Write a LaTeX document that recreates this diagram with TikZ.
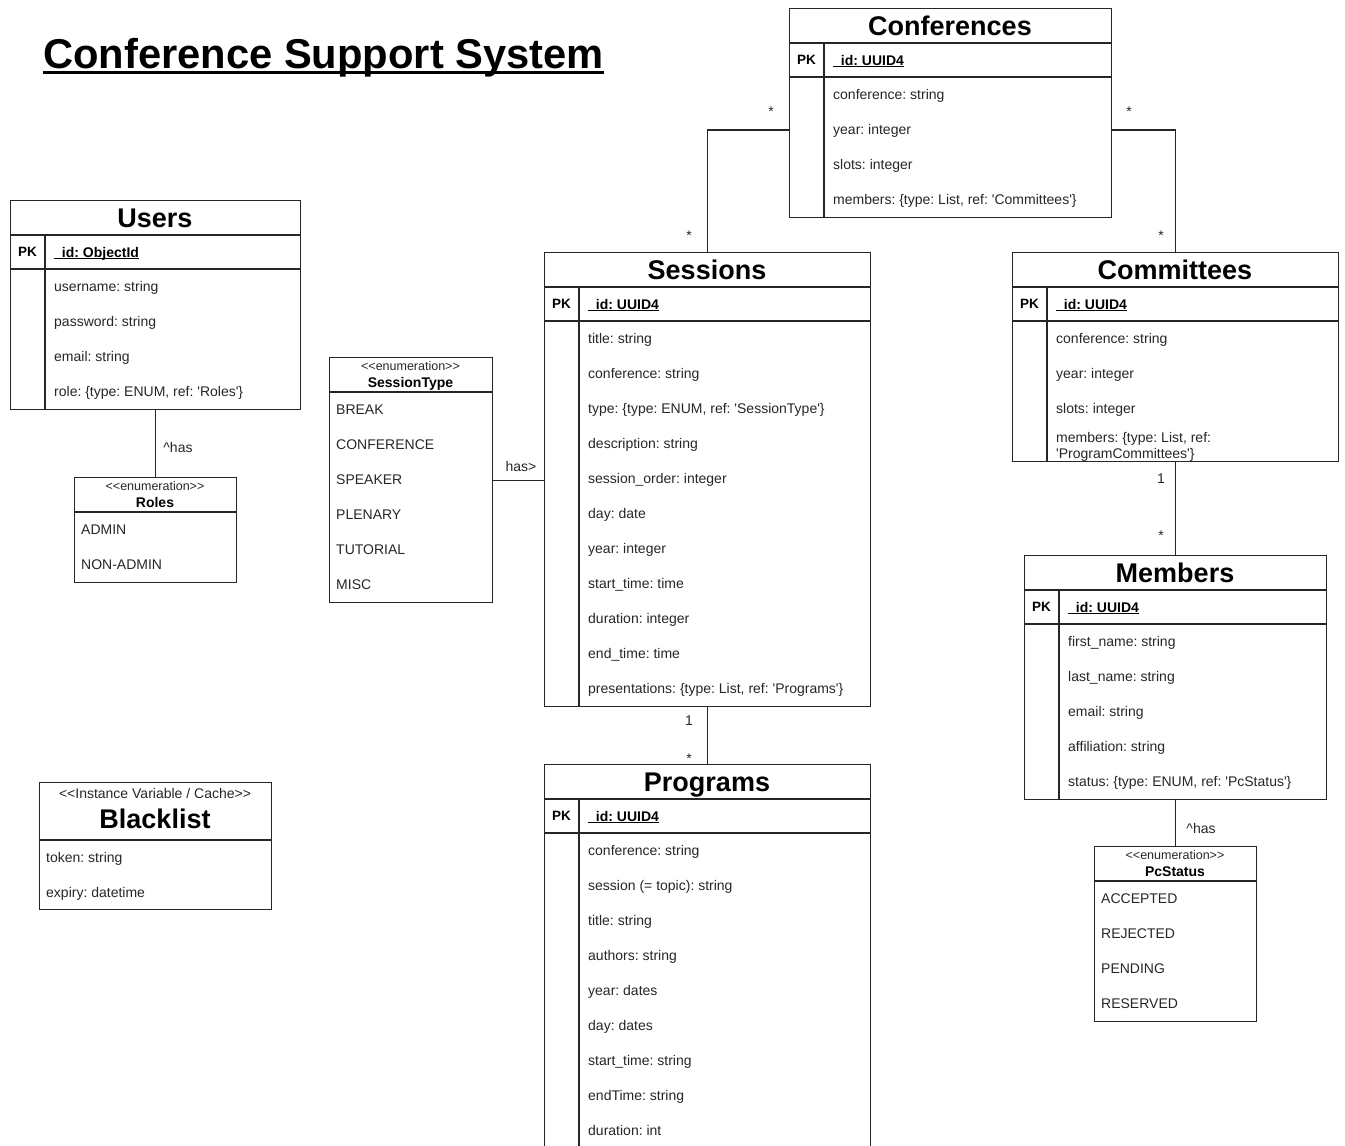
\documentclass[tikz,border=0pt]{standalone}
\usepackage{fontspec}
\newfontfamily\uifont{Liberation Sans}

% underline drawn just under the baseline, merging with a leading underscore
\newcommand\keyul[1]{\setbox0=\hbox{#1}\rlap{\rule[-2pt]{\wd0}{1pt}}\box0}

\tikzset{
  tbl/.style={draw=black!85, line width=1.2pt, inner sep=0pt, anchor=north west},
  sep/.style={draw=black!85, line width=1.2pt},
  link/.style={draw=black!85, line width=1.2pt},
  ttl/.style={font=\uifont\bfseries\fontsize{27}{30}\selectfont, inner sep=0pt,
              text height=19.5pt, text depth=0pt},
  pkl/.style={font=\uifont\bfseries\fontsize{13.5}{16}\selectfont, inner sep=0pt,
              text height=9.7pt, text depth=0pt},
  idl/.style={font=\uifont\bfseries\fontsize{14}{16}\selectfont, inner sep=0pt,
              anchor=west, text height=10pt, text depth=0pt},
  attr/.style={font=\uifont\fontsize{14}{16}\selectfont, inner sep=0pt, anchor=west,
               text=black!85, text height=10pt, text depth=0pt},
  attrbase/.style={font=\uifont\fontsize{14}{16}\selectfont, inner sep=0pt,
               anchor=base west, text=black!85},
  stereo/.style={font=\uifont\fontsize{12.5}{15}\selectfont, inner sep=0pt,
                 text=black!85, text height=8pt, text depth=0pt},
  enumttl/.style={font=\uifont\bfseries\fontsize{14}{16}\selectfont, inner sep=0pt,
                  text height=10pt, text depth=0pt},
  lbl/.style={font=\uifont\fontsize{14}{16}\selectfont, inner sep=0pt,
              text=black!85, text height=10pt, text depth=0pt},
}

% entity table: name, left, top, width, title, key, attribute rows, row count
\newcommand\entity[8]{%
  \pgfmathsetmacro\enth{69+35*#8}%
  \node[tbl, minimum width=#4pt, minimum height=\enth pt] (#1) at (#2,#3) {};
  \draw[sep] (#2,#3+35) -- ++(#4,0);
  \draw[sep] (#2,#3+69) -- ++(#4,0);
  \draw[sep] (#2+35,#3+35) -- (#2+35,#3+\enth);
  \node[ttl] (#1-title) at (#2+#4/2,#3+17.5) {#5};
  \node[pkl] (#1-pk) at (#2+17.5,#3+52) {PK};
  \node[idl] (#1-key) at (#2+44,#3+52) {\keyul{#6}};
  \foreach \rowtext [count=\rowidx] in {#7}
    \node[attr] (#1-r\rowidx) at (#2+44,#3+69+35*\rowidx-17.5) {\rowtext};
}

% enumeration box: name, left, top, width, header height, stereotype, title, values, count
\newcommand\enumbox[9]{%
  \pgfmathsetmacro\enmh{#5+35*#9}%
  \node[tbl, minimum width=#4pt, minimum height=\enmh pt] (#1) at (#2,#3) {};
  \draw[sep] (#2,#3+#5) -- ++(#4,0);
  \node[stereo] (#1-stereo) at (#2+#4/2,#3+9) {#6};
  \node[enumttl] (#1-title) at (#2+#4/2,#3+25.5) {#7};
  \foreach \rowtext [count=\rowidx] in {#8}
    \node[attr] (#1-r\rowidx) at (#2+7,#3+#5+35*\rowidx-17.5) {\rowtext};
}

\begin{document}
\frenchspacing
\begin{tikzpicture}[x=1pt, y=-1pt]
\useasboundingbox (0,0) rectangle (1345,1146);

% heading
\node[anchor=base west, inner sep=0pt, font=\uifont\bfseries\fontsize{41.7}{48}\selectfont]
  (heading) at (43,68) {Conference Support System};
\draw[line width=3pt] ([yshift=-4.5pt]heading.base west) -- ([yshift=-4.5pt]heading.base east);

% entities
\entity{conf}{789}{8}{322}{Conferences}{\_id: UUID4}
  {conference: string, year: integer, slots: integer,
   {members: \{type: List, ref: 'Committees'\}}}{4}

\entity{users}{10}{200}{290}{Users}{\_id: ObjectId}
  {username: string, password: string, email: string,
   {role: \{type: ENUM, ref: 'Roles'\}}}{4}

\entity{sess}{544}{252}{326}{Sessions}{\_id: UUID4}
  {title: string, conference: string, {type: \{type: ENUM, ref: 'SessionType'\}},
   description: string, session\_order: integer, day: date, year: integer,
   start\_time: time, duration: integer, end\_time: time,
   {presentations: \{type: List, ref: 'Programs'\}}}{11}

\entity{prog}{544}{764}{326}{Programs}{\_id: UUID4}
  {conference: string, session (= topic): string, title: string, authors: string,
   year: dates, day: dates, start\_time: string, endTime: string, duration: int}{9}

\entity{com}{1012}{252}{326}{Committees}{\_id: UUID4}
  {conference: string, year: integer, slots: integer}{4}
\node[attrbase] (com-r4) at (1056,442) {members: \{type: List, ref:};
\node[attrbase] (com-r4b) at (1056,458) {'ProgramCommittees'\}};

\entity{mem}{1024}{555}{302}{Members}{\_id: UUID4}
  {first\_name: string, last\_name: string, email: string, affiliation: string,
   {status: \{type: ENUM, ref: 'PcStatus'\}}}{5}

% enumerations
\enumbox{roles}{74}{477}{162}{35}{<<enumeration>>}{Roles}{ADMIN, NON-ADMIN}{2}
\enumbox{stype}{329}{357}{163}{35}{<<enumeration>>}{SessionType}
  {BREAK, CONFERENCE, SPEAKER, PLENARY, TUTORIAL, MISC}{6}
\enumbox{pcs}{1094}{846}{162}{35}{<<enumeration>>}{PcStatus}
  {ACCEPTED, REJECTED, PENDING, RESERVED}{4}

% cache
\node[tbl, minimum width=232pt, minimum height=127pt] (black) at (39,782) {};
\draw[sep] (39,840) -- ++(232,0);
\node[stereo, font=\uifont\fontsize{14}{16}\selectfont, text height=10pt] (black-stereo) at (155,793)
  {<<Instance Variable / Cache>>};
\node[ttl] (black-title) at (155,819) {Blacklist};
\node[attr] (black-r1) at (46,857.5) {token: string};
\node[attr] (black-r2) at (46,892) {expiry: datetime};

% relations
\draw[link] ([yshift=-122pt]conf.north west) -| (sess.north);
\node[lbl] (m1) at (771,111) {*};
\node[lbl] (m2) at (689,235) {*};

\draw[link] ([yshift=-122pt]conf.north east) -| (com.north);
\node[lbl] (m3) at (1129,111) {*};
\node[lbl] (m4) at (1161,235) {*};

\draw[link] (com.south) -- (mem.north);
\node[lbl] (m5) at (1161,478) {1};
\node[lbl] (m6) at (1161,535) {*};

\draw[link] (sess.south) -- (prog.north);
\node[lbl] (m7) at (689,720) {1};
\node[lbl] (m8) at (689,758) {*};

\draw[link] (stype.east) -- (stype.east -| sess.west);
\node[lbl] (hasst) at (521,466) {has>};

\draw[link] (users.south) -- (roles.north);
\node[lbl] (hasroles) at (178,447) {\textasciicircum has};

\draw[link] (mem.south) -- (pcs.north);
\node[lbl] (haspcs) at (1201,828) {\textasciicircum has};
\end{tikzpicture}
\end{document}
